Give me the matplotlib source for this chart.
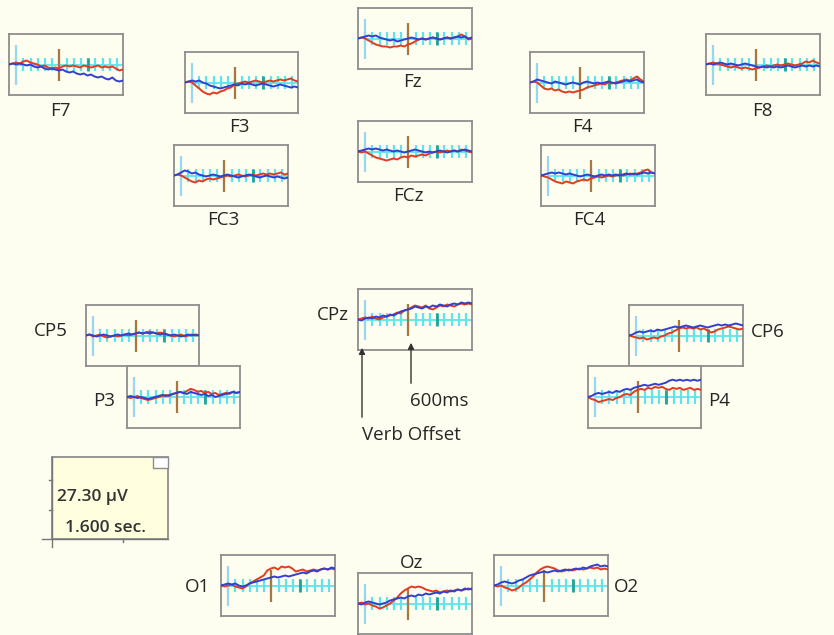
import numpy as np
import matplotlib
matplotlib.use("Agg")
import matplotlib.pyplot as plt
from matplotlib.patches import Rectangle

plt.rcParams['font.family'] = ['Open Sans', 'DejaVu Sans']

W, H = 834, 635
BG = '#FDFDF0'

# channel names
channels = ['F7', 'F3', 'Fz', 'F4', 'F8', 'FC3', 'FCz', 'FC4',
            'CP5', 'P3', 'CPz', 'CP6', 'P4', 'O1', 'Oz', 'O2']

# waveforms, amplitude in panel units (panel spans -30..30), 33 samples each
red = {
    'F7':  [0, 1, 2, 1, 3, 4, 2, 1, 0, -2, -1, -3, -4, -3, -4, -2, -1, -2, -1, -2, -3, -1, -2, -3, -2, -1, -3, -2, -3, -2, -4, -6, -5],
    'F3':  [0, 1, 0, -3, -6, -9, -11, -12, -10, -11, -9, -8, -6, -5, -2, -1, 0, 1, 0, 1, 2, 1, 0, 1, 2, 1, 2, 3, 2, 3, 4, 2, 1],
    'Fz':  [0, 1, 0, -2, -4, -6, -7, -8, -8, -9, -8, -8, -7, -8, -6, -5, -3, -1, 0, -1, 0, 1, 0, -1, 0, 1, 0, 1, 2, 4, 2, -1, 0],
    'F4':  [0, 1, 0, -3, -6, -7, -6, -8, -7, -9, -10, -9, -10, -9, -8, -7, -5, -4, -3, -2, -1, -2, 0, -1, 0, 1, 2, 3, 2, 4, 6, 3, 1],
    'F8':  [0, 1, 2, 1, 0, -1, -2, -3, -2, -3, -4, -3, -4, -5, -4, -3, -2, -1, -2, -1, 0, -1, 0, 1, 0, -1, 0, 1, 3, 2, 4, 2, 1],
    'FC3': [0, 1, 0, -2, -4, -6, -7, -5, -6, -4, -3, -4, -3, -2, -1, 0, -1, 0, 1, 0, -1, 0, 1, 0, 1, 2, 1, 2, 1, 2, 3, 1, 2],
    'FCz': [0, -1, 0, -2, -4, -6, -7, -8, -9, -8, -7, -8, -6, -5, -6, -4, -5, -4, -3, -4, -2, -1, 0, -1, 0, 1, 0, 1, 0, 2, 1, 0, -1],
    'FC4': [0, -1, -2, -4, -6, -7, -8, -6, -7, -8, -6, -5, -4, -5, -3, -2, -1, -2, -1, 0, -1, 0, 1, 0, 1, 2, 1, 2, 3, 5, 6, 3, 2],
    'CP5': [0, 1, -1, 0, 1, -1, -2, -1, 0, -1, 0, 1, 0, 1, 2, 3, 2, 3, 4, 3, 2, 3, 2, 1, 0, -1, 0, 1, -1, 0, 1, 0, 1],
    'P3':  [0, -1, 0, 1, -1, -2, -3, -2, -1, 0, 1, 2, 1, 3, 4, 5, 4, 6, 8, 7, 5, 6, 4, 5, 3, 4, 2, 3, 4, 3, 5, 4, 5],
    'CPz': [0, 1, 2, 1, 3, 1, 0, 2, 3, 4, 5, 7, 6, 9, 10, 12, 14, 13, 12, 14, 11, 10, 12, 14, 13, 15, 14, 13, 15, 16, 15, 16, 15],
    'CP6': [0, -1, -2, -3, -2, -4, -3, -2, -3, -1, 0, 2, 3, 5, 7, 8, 7, 8, 7, 8, 6, 7, 5, 3, 4, 6, 7, 8, 9, 8, 7, 6, 7],
    'P4':  [0, -2, -3, -5, -4, -3, -2, -3, -1, 0, 2, 3, 2, 5, 7, 8, 7, 9, 8, 10, 9, 10, 8, 7, 9, 8, 9, 7, 8, 9, 7, 8, 7],
    'O1':  [0, -1, 0, 1, -1, -2, -3, -1, 2, 4, 6, 8, 10, 15, 17, 18, 16, 19, 18, 19, 17, 14, 15, 16, 14, 15, 16, 15, 16, 17, 16, 17, 16],
    'Oz':  [0, 1, -1, 0, -2, -3, -5, -4, -2, 0, 3, 6, 10, 13, 15, 17, 16, 17, 16, 14, 13, 12, 13, 11, 12, 13, 12, 13, 14, 13, 14, 15, 14],
    'O2':  [0, -1, 0, -2, -3, -5, -4, -2, 1, 3, 6, 9, 13, 16, 18, 19, 18, 17, 15, 14, 15, 16, 15, 16, 17, 16, 17, 18, 17, 18, 16, 17, 16],
}
blue = {
    'F7':  [0, 1, 0, 1, 0, -1, 0, -2, -3, -2, -4, -5, -4, -5, -6, -5, -7, -8, -7, -9, -10, -9, -11, -10, -12, -13, -12, -14, -15, -13, -16, -17, -16],
    'F3':  [0, 1, 2, 1, 2, 0, -1, -3, -4, -5, -6, -5, -4, -3, -2, -3, -1, -2, -1, -2, -3, -2, -1, -2, -3, -4, -3, -2, -3, -4, -5, -4, -5],
    'Fz':  [0, 1, 2, 3, 2, 3, 1, 0, -1, -2, -1, -3, -2, -1, 0, 1, 0, -1, 0, -1, 0, 1, 0, -1, 0, 1, 0, 1, 2, 1, 2, 0, 1],
    'F4':  [0, 1, 3, 2, 1, 0, -1, 1, 0, -1, -2, -1, 0, -1, -2, 0, 1, 0, -1, 0, -1, 0, 1, 0, -1, 0, 1, 2, 1, 2, 3, 1, 0],
    'F8':  [0, 1, 0, 1, 2, 1, 0, 1, 0, -1, 0, 1, 0, -1, -2, -3, -2, -3, -2, -3, -2, -3, -2, -1, -2, -3, -2, -1, -2, -1, -2, -1, -2],
    'FC3': [0, 1, 3, 5, 4, 2, 3, 1, 0, -1, 0, 1, 0, -1, 0, 1, 0, -1, -2, -1, 0, 1, 0, -1, -2, -1, 0, -1, -2, -1, -2, -3, -2],
    'FCz': [0, 1, 2, 3, 2, 3, 2, 1, 2, 1, 0, 1, 0, -1, 0, 1, 2, 1, 0, -1, 0, -1, 0, 1, 0, -1, 0, 1, 0, 1, 2, 1, 0],
    'FC4': [0, 1, 2, 3, 2, 3, 2, 1, 2, 1, 0, -1, 0, 1, 0, -1, 0, 1, 0, 1, 0, 1, 0, 1, 2, 1, 2, 1, 2, 3, 2, 3, 2],
    'CP5': [0, 1, 0, -1, 0, 1, 0, -1, 0, 1, 0, 1, 2, 1, 2, 3, 2, 3, 2, 3, 2, 1, 2, 1, 0, 1, 0, -1, 0, 1, 0, 1, 0],
    'P3':  [0, 1, 0, -1, 0, -1, -2, -1, 0, 1, 2, 1, 2, 3, 4, 5, 4, 3, 5, 4, 3, 2, 3, 1, 2, 0, 1, 2, 3, 4, 5, 4, 5],
    'CPz': [0, -1, 1, 2, 1, 3, 2, 4, 3, 5, 4, 6, 8, 9, 10, 11, 13, 12, 11, 13, 12, 14, 13, 15, 14, 13, 15, 16, 15, 17, 16, 17, 16],
    'CP6': [0, 1, 3, 4, 3, 4, 5, 4, 6, 5, 6, 7, 8, 9, 8, 9, 10, 9, 8, 9, 10, 9, 8, 9, 10, 11, 10, 11, 10, 11, 12, 11, 10],
    'P4':  [0, 1, 3, 4, 3, 4, 5, 4, 6, 5, 7, 8, 7, 9, 10, 11, 12, 11, 12, 13, 12, 13, 14, 16, 17, 16, 17, 16, 17, 16, 17, 16, 17],
    'O1':  [0, 1, 2, 1, 2, 0, -1, 0, 2, 3, 4, 5, 6, 7, 8, 9, 8, 9, 10, 9, 10, 11, 12, 13, 12, 14, 15, 14, 16, 17, 16, 18, 17],
    'Oz':  [0, -1, 1, 2, 1, 0, -1, 0, 1, 3, 4, 5, 6, 5, 7, 8, 7, 9, 8, 10, 9, 10, 11, 10, 12, 11, 13, 12, 14, 13, 15, 14, 15],
    'O2':  [0, 1, 3, 4, 3, 2, 3, 5, 6, 8, 10, 11, 12, 13, 14, 13, 14, 15, 14, 15, 16, 15, 16, 17, 16, 18, 17, 19, 20, 21, 19, 20, 19],
}

# panel boxes in image pixels (left, top, right, bottom)
boxes = {
    'F7': (9, 34, 123, 95), 'F3': (185, 52, 298, 113), 'Fz': (358, 8, 472, 69),
    'F4': (530, 52, 644, 113), 'F8': (706, 34, 820, 95),
    'FC3': (174, 145, 288, 206), 'FCz': (358, 121, 472, 182), 'FC4': (541, 145, 655, 206),
    'CP5': (86, 305, 199, 366), 'P3': (127, 366, 240, 428), 'CPz': (358, 289, 472, 350),
    'CP6': (629, 305, 743, 366), 'P4': (588, 366, 701, 428),
    'O1': (221, 555, 335, 616), 'Oz': (358, 573, 472, 634), 'O2': (494, 555, 608, 616),
}
# label anchor (x, y, ha)
labels = {
    'F7': (60, 111, 'center'), 'F3': (239, 127, 'center'), 'Fz': (412, 82, 'center'),
    'F4': (582, 127, 'center'), 'F8': (762, 111, 'center'),
    'FC3': (223, 220, 'center'), 'FCz': (408, 196, 'center'), 'FC4': (589, 220, 'center'),
    'CP5': (51, 331, 'center'), 'P3': (104, 401, 'center'), 'CPz': (349, 315, 'right'),
    'CP6': (768, 332, 'center'), 'P4': (719, 401, 'center'),
    'O1': (197, 587, 'center'), 'Oz': (412, 563, 'center'), 'O2': (626, 587, 'center'),
}

T0, T1 = -100, 1485
times = np.linspace(T0, T1, 33)
tick_ms = np.arange(0, 1450, 100)

RED = '#E23B1F'
BLUE = '#3140CF'
CYAN = '#5FE4EC'
BORDER = '#8E8E8E'
TXT = '#262626'


def px_axes(fig, l, t, r, b):
    return fig.add_axes([l / W, 1 - b / H, (r - l) / W, (b - t) / H])


fig = plt.figure(figsize=(W / 100, H / 100), dpi=100, facecolor=BG)

for ch in channels:
    ax = px_axes(fig, *boxes[ch])
    ax.set_facecolor(BG)
    ax.set_xlim(T0, T1)
    ax.set_ylim(-30.5, 30.5)
    ax.set_xticks([])
    ax.set_yticks([])
    for s in ax.spines.values():
        s.set_color(BORDER)
        s.set_linewidth(1.3)
    # baseline and time ticks
    ax.plot([0, T1], [0, 0], color=CYAN, lw=1.3, zorder=1)
    ax.vlines(tick_ms, -6.5, 6.5, color=CYAN, lw=1.6, zorder=1)
    ax.vlines([0], -20, 20, color='#9AD6F0', lw=1.6, zorder=1)
    ax.vlines([1000], -6.5, 6.5, color='#1FA596', lw=2.0, zorder=2)
    ax.vlines([600], -16, 16, color='#A8763E', lw=1.6, zorder=2)
    ax.plot(times, red[ch], color=RED, lw=1.4, zorder=3)
    ax.plot(times, blue[ch], color=BLUE, lw=1.4, zorder=4)
    lx, ly, ha = labels[ch]
    fig.text(lx / W, 1 - ly / H, ch, ha=ha, va='center', fontsize=13.5, color=TXT)

# annotation arrows under CPz
ann = fig.add_axes([0, 0, 1, 1], facecolor='none')
ann.set_xlim(0, W)
ann.set_ylim(H, 0)
ann.axis('off')
ann.annotate('', xy=(362, 345), xytext=(362, 420),
             arrowprops=dict(arrowstyle='-|>', color='#333333', lw=1.0, mutation_scale=9))
ann.annotate('', xy=(411, 340), xytext=(411, 386),
             arrowprops=dict(arrowstyle='-|>', color='#333333', lw=1.0, mutation_scale=9))
ann.text(439, 401, '600ms', ha='center', va='center', fontsize=13.5, color=TXT)
ann.text(411, 435, 'Verb Offset', ha='center', va='center', fontsize=13.5, color=TXT)

# scale box
ann.add_patch(Rectangle((52, 457), 116, 82, facecolor='#FFFFE0', edgecolor=BORDER, lw=1.3))
ann.add_patch(Rectangle((153, 457), 15, 11, facecolor='white', edgecolor=BORDER, lw=1.0))
ann.plot([42, 168], [539, 539], color='#777777', lw=1.0)
ann.plot([52, 52], [457, 547], color='#777777', lw=1.0)
ann.plot([49, 52], [480, 480], color='#777777', lw=1.0)
ann.plot([49, 52], [510, 510], color='#777777', lw=1.0)
ann.plot([123, 123], [539, 542], color='#777777', lw=1.0)
ann.text(57, 497, '27.30 µV', ha='left', va='center', fontsize=12.5,
         color='#333333', fontweight='semibold')
ann.text(65, 528, '1.600 sec.', ha='left', va='center', fontsize=12.5,
         color='#333333', fontweight='semibold')

fig.savefig('out.png', dpi=100, facecolor=BG)
